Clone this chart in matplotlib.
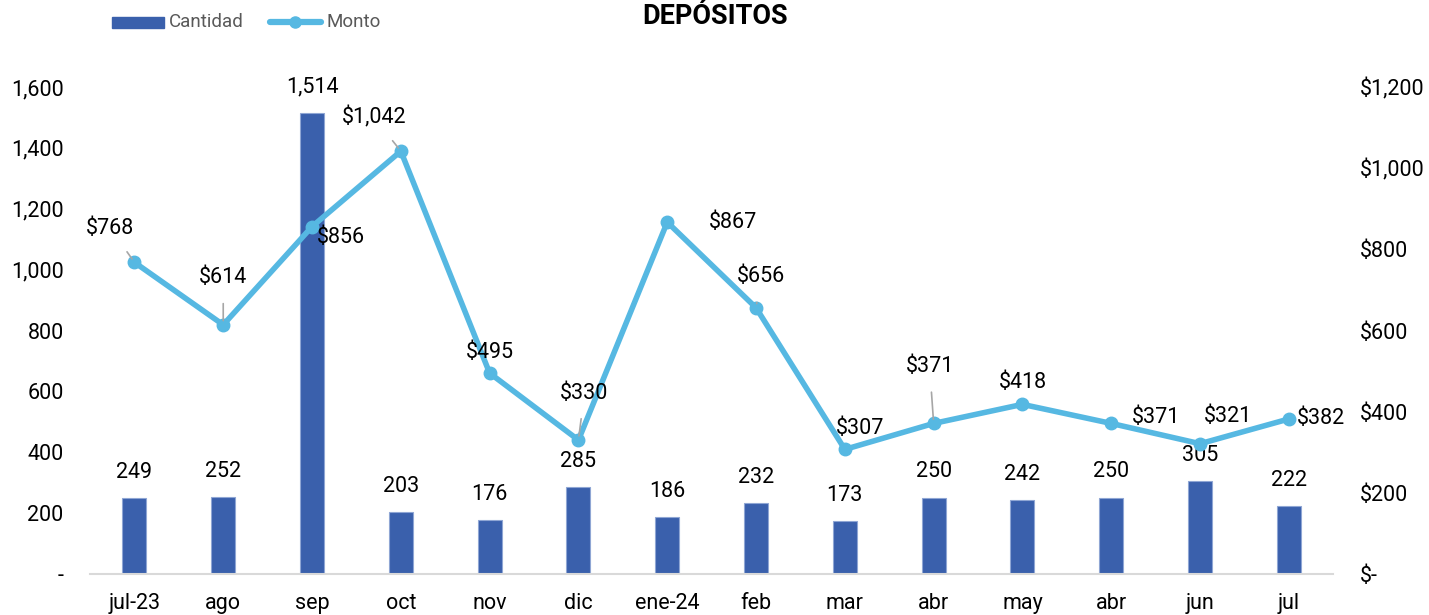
import matplotlib.pyplot as plt
from matplotlib.ticker import FuncFormatter

meses = ["jul-23", "ago", "sep", "oct", "nov", "dic", "ene-24", "feb", "mar", "abr", "may", "abr", "jun", "jul"]
cantidad = [249, 252, 1514, 203, 176, 285, 186, 232, 173, 250, 242, 250, 305, 222]
monto = [768, 614, 856, 1042, 495, 330, 867, 656, 307, 371, 418, 371, 321, 382]

# desplazamiento de las etiquetas de monto (pixeles) y si llevan linea guia
off_monto = [(-24, 34), (0, 47), (29, -11), (-27, 34), (0, 21), (6, 47), (66, 0),
             (5, 31), (15, 21), (-4, 57), (0, 22), (45, 6), (28, 27), (32, 0)]
guia = [True, True, False, True, False, True, False, True, False, True, False, False, False, False]

plt.rcParams['font.family'] = ['Roboto', 'DejaVu Sans']
fs = 15.5

fig = plt.figure(figsize=(14.29, 6.15), dpi=100)
ax = fig.add_axes([0.063, 0.0667, 0.870, 0.7918])
ax2 = ax.twinx()

x = range(len(meses))
ax.bar(x, cantidad, width=0.27, color="#3A60AC", edgecolor="#8FA6D4", linewidth=0.8, zorder=2)
ax.set_ylim(0, 1600)
ax.set_xlim(-0.5, len(meses) - 0.5)
ax.set_yticks(range(0, 1601, 200))
ax.yaxis.set_major_formatter(FuncFormatter(lambda v, p: "-" if v == 0 else f"{v:,.0f}"))
ax.set_xticks(list(x))
ax.set_xticklabels(meses)
ax.tick_params(axis="both", length=0, labelsize=fs)
ax.tick_params(axis="y", pad=19)
ax.tick_params(axis="x", pad=14)
for s in ["top", "right", "left"]:
    ax.spines[s].set_visible(False)
ax.spines["bottom"].set_color("#D9D9D9")
ax.spines["bottom"].set_linewidth(1.5)

for i, v in enumerate(cantidad):
    ax.annotate(f"{v:,}", (i, v), xytext=(0, 26), textcoords="offset pixels",
                ha="center", va="center", fontsize=fs)

ax2.plot(x, monto, color="#56B8E2", linewidth=4, marker="o", markersize=9, zorder=3)
ax2.set_ylim(0, 1200)
ax2.set_yticks(range(0, 1201, 200))
ax2.yaxis.set_major_formatter(FuncFormatter(lambda v, p: "$-" if v == 0 else f"${v:,.0f}"))
ax2.tick_params(axis="y", length=0, labelsize=fs, pad=19)
for s in ax2.spines.values():
    s.set_visible(False)

for i, v in enumerate(monto):
    dx, dy = off_monto[i]
    props = dict(arrowstyle="-", color="#A6A6A6", lw=1.2, shrinkA=9, shrinkB=3) if guia[i] else None
    ax2.annotate(f"${v:,}", (i, v), xytext=(dx, dy), textcoords="offset pixels",
                 ha="center", va="center", fontsize=fs, arrowprops=props, zorder=4)

fig.text(715 / 1429, 1 - 17 / 615, "DEPÓSITOS", ha="center", va="center", fontsize=19.5,
         fontweight="bold")

# leyenda (coordenadas en pixeles de la figura, y desde arriba)
lax = fig.add_axes([0, 0, 1, 1])
lax.set_xlim(0, 1429)
lax.set_ylim(615, 0)
lax.axis("off")
lax.add_patch(plt.Rectangle((112, 17), 52, 11, color="#3A60AC"))
lax.text(169, 22, "Cantidad", va="center", ha="left", fontsize=13.5, color="#595959")
lax.plot([270, 321], [22, 22], color="#56B8E2", linewidth=4.5, solid_capstyle="round")
lax.plot([295], [22], "o", color="#56B8E2", markersize=8)
lax.text(327, 22, "Monto", va="center", ha="left", fontsize=13.5, color="#595959")

fig.savefig("out.png", dpi=100)
